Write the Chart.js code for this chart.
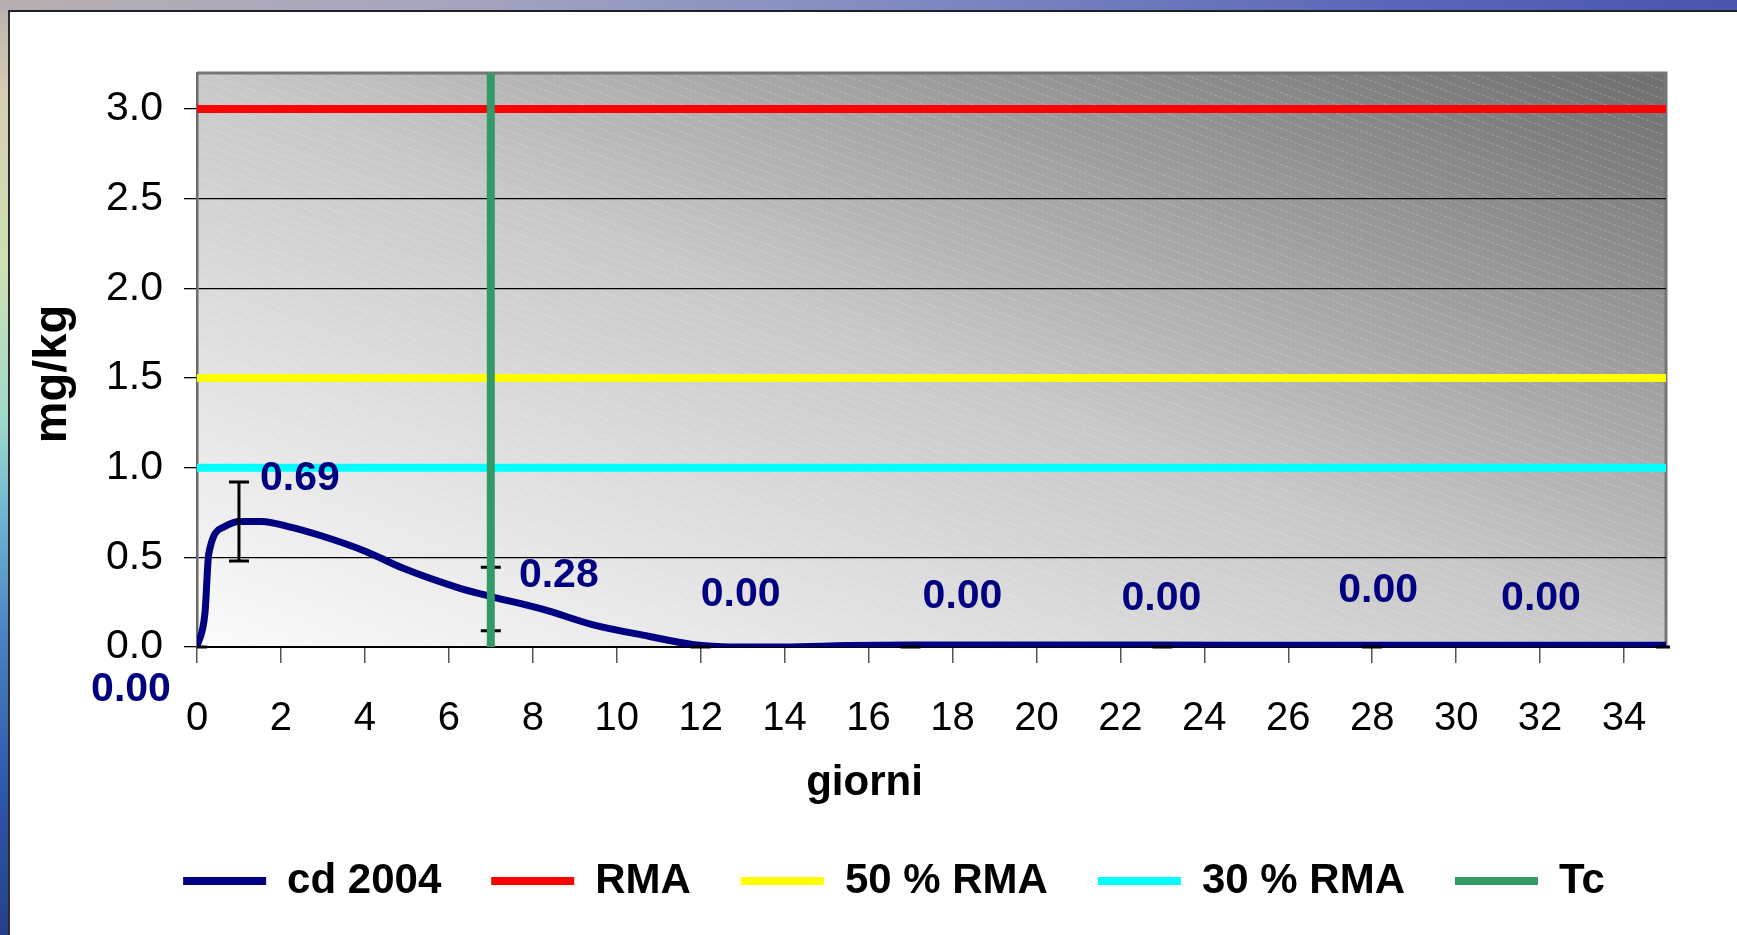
<!DOCTYPE html>
<html>
<head>
<meta charset="utf-8">
<title>cd 2004</title>
<script src="https://cdn.jsdelivr.net/npm/chart.js@4.4.1/dist/chart.umd.min.js"></script>
<style>
  html, body { margin: 0; padding: 0; }
  body {
    width: 1737px; height: 935px; overflow: hidden; position: relative;
    background: linear-gradient(to bottom, #b9b2ae 0%, #d6cdb4 10%, #cfe1b3 28%, #9fd9cc 45%, #6fb6d2 55%, #4a82c4 68%, #2f56a8 85%, #24408c 100%);
  }
  #topband {
    position: absolute; left: 0; top: 0; right: 0; height: 12px;
    background: linear-gradient(to right, #b7aeb0 0%, #a7a6bf 25%, #7c86c2 55%, #5a66b8 80%, #4a56ae 100%);
  }
  #panel {
    position: absolute; left: 8px; top: 10px; right: 0; bottom: 0; background: #fff;
    border-left: 2px solid #2c2c2c; border-top: 2px solid #1f1f2a;
  }
  #wrap { position: absolute; left: 0; top: 0; width: 1737px; height: 935px; }
</style>
</head>
<body>
<div id="topband"></div>
<div id="panel"></div>
<div id="wrap"><canvas id="chart"></canvas></div>
<script>
'use strict';

// cd 2004 curve (giorni, mg/kg)
const curveDays = [0, 0.19, 0.28, 0.65, 1.03, 1.54, 2.2, 2.96, 4.05, 4.9, 6.23, 7.03, 8.25, 9.42, 10.76, 11.85, 13, 14, 15.5, 17, 20, 25, 30, 35];
const curveValues = [0, 0.19, 0.52, 0.67, 0.70, 0.70, 0.67, 0.62, 0.53, 0.44, 0.33, 0.28, 0.21, 0.125, 0.06, 0.013, 0, 0, 0.008, 0.011, 0.011, 0.01, 0.01, 0.01];

// sampling days, with value labels and error bars
const sampleDays = [0, 1, 7, 12, 17, 23, 28, 35];
const sampleValues = [0, 0.69, 0.28, 0, 0, 0, 0, 0];
const sampleLow = [0, 0.48, 0.09, 0, 0, 0, 0, 0];
const sampleHigh = [0, 0.92, 0.445, 0, 0, 0, 0, 0];

const seriesName = 'cd 2004';
const limitNames = ['RMA', '50 % RMA', '30 % RMA'];
const limitValues = [3.0, 1.5, 1.0];
const tcName = 'Tc';
const tcDay = 7;

const dayRange = [0, 35];
const valueRange = [0, 3.2];
const xTitle = 'giorni';
const yTitle = 'mg/kg';

// styling
const limitColors = ['#ff0000', '#ffff00', '#00ffff'];
const labelShift = [[-66, 43], [61, -45], [68, -21], [40, -52], [52, -50], [-1, -48], [6, -56], [-125, -48]];
const FONT = '"Liberation Sans", Arial, sans-serif';

Chart.defaults.font.family = FONT;
Chart.defaults.color = '#000';

let canvasElem = document.getElementById('chart');

const plotBackground = {
  id: 'plotBackground',
  beforeDraw(chart) {
    const {ctx, chartArea: a} = chart;
    const w = a.right - a.left;
    const h = a.bottom - a.top;
    ctx.save();
    ctx.translate(a.left, a.top);
    ctx.scale(w, h);
    const g = ctx.createLinearGradient(0, 1, 1, 0);
    g.addColorStop(0, '#fbfbfb');
    g.addColorStop(0.5, '#c8c8c8');
    g.addColorStop(1, '#6e6e6e');
    ctx.fillStyle = g;
    ctx.fillRect(0, 0, 1, 1);
    ctx.restore();

    // faint dashed hatching
    ctx.save();
    ctx.beginPath();
    ctx.rect(a.left, a.top, w, h);
    ctx.clip();
    ctx.strokeStyle = 'rgba(255,255,255,0.25)';
    ctx.lineWidth = 1;
    ctx.setLineDash([3, 2]);
    const slope = 0.37;
    for (let off = -w * slope; off < h; off += 9) {
      ctx.beginPath();
      ctx.moveTo(a.left, a.top + off);
      ctx.lineTo(a.right, a.top + off + w * slope);
      ctx.stroke();
    }
    ctx.restore();

    ctx.save();
    ctx.strokeStyle = '#767676';
    ctx.lineWidth = 3;
    ctx.beginPath();
    ctx.moveTo(a.left, a.top);
    ctx.lineTo(a.right, a.top);
    ctx.lineTo(a.right, a.bottom);
    ctx.stroke();
    ctx.restore();
  }
};

const sampleMarks = {
  id: 'sampleMarks',
  afterDatasetDraw(chart, args) {
    if (args.index !== 0) return;
    const {ctx, chartArea: a, scales: {x, y}} = chart;
    ctx.save();
    ctx.beginPath();
    ctx.rect(a.left, a.top - 10, a.right - a.left + 4, a.bottom - a.top + 20);
    ctx.clip();
    ctx.strokeStyle = '#000';
    ctx.lineWidth = 3;
    sampleDays.forEach((d, i) => {
      const px = x.getPixelForValue(d);
      const lo = y.getPixelForValue(sampleLow[i]);
      const hi = y.getPixelForValue(sampleHigh[i]);
      ctx.beginPath();
      ctx.moveTo(px, lo);
      ctx.lineTo(px, hi);
      ctx.moveTo(px - 10, lo);
      ctx.lineTo(px + 10, lo);
      ctx.moveTo(px - 10, hi);
      ctx.lineTo(px + 10, hi);
      ctx.stroke();
    });
    ctx.restore();
  },
  afterDatasetsDraw(chart) {
    const {ctx, scales: {x, y}} = chart;
    ctx.save();
    ctx.font = 'bold 41px ' + FONT;
    ctx.fillStyle = '#000080';
    ctx.textAlign = 'center';
    ctx.textBaseline = 'middle';
    sampleDays.forEach((d, i) => {
      ctx.fillText(sampleValues[i].toFixed(2),
        x.getPixelForValue(d) + labelShift[i][0],
        y.getPixelForValue(sampleValues[i]) + labelShift[i][1]);
    });
    ctx.restore();
  }
};

// axis titles sit off-centre in the original slide
const axisTitles = {
  id: 'axisTitles',
  afterDraw(chart) {
    const {ctx, chartArea: a} = chart;
    ctx.save();
    ctx.fillStyle = '#000';
    ctx.textAlign = 'center';
    ctx.textBaseline = 'middle';
    ctx.font = 'bold 42px ' + FONT;
    ctx.fillText(xTitle, (a.left + a.right) / 2 - 67, a.bottom + 136);
    ctx.font = 'bold 47px ' + FONT;
    ctx.translate(53, (a.top + a.bottom) / 2 + 14);
    ctx.rotate(-Math.PI / 2);
    ctx.fillText(yTitle, 0, 0);
    ctx.restore();
  }
};

// move the legend row to where it sits in the original slide
const legendShift = {
  id: 'legendShift',
  afterLayout(chart) {
    if (!chart.legend) return;
    chart.legend.left += 51;
    chart.legend.right += 51;
  }
};

function renderChart() {
  let datasets = [];
  datasets.push({
    label: seriesName,
    data: curveDays.map((d, i) => ({x: d, y: curveValues[i]})),
    borderColor: '#000080',
    backgroundColor: '#000080',
    borderWidth: 7,
    pointRadius: 0,
    cubicInterpolationMode: 'monotone',
    order: 5
  });
  for (let i = 0; i < limitNames.length; i++) {
    datasets.push({
      label: limitNames[i],
      data: [{x: dayRange[0], y: limitValues[i]}, {x: dayRange[1], y: limitValues[i]}],
      borderColor: limitColors[i],
      backgroundColor: limitColors[i],
      borderWidth: 8,
      pointRadius: 0,
      order: 4 - i
    });
  }
  datasets.push({
    label: tcName,
    data: [{x: tcDay, y: valueRange[0]}, {x: tcDay, y: valueRange[1]}],
    borderColor: '#339966',
    backgroundColor: '#339966',
    borderWidth: 8,
    pointRadius: 0,
    order: 1
  });
  datasets.push({
    label: 'samples',
    data: sampleDays.map((d, i) => ({x: d, y: sampleValues[i]})),
    showLine: false,
    pointRadius: 0,
    order: 0
  });

  let config = {
    type: 'line',
    data: {datasets: datasets},
    plugins: [plotBackground, sampleMarks, axisTitles, legendShift],
    options: {
      responsive: true,
      maintainAspectRatio: false,
      animation: false,
      events: [],
      layout: {padding: {left: 20, right: 71, top: 73, bottom: 23}},
      scales: {
        x: {
          type: 'linear',
          min: dayRange[0],
          max: dayRange[1],
          ticks: {stepSize: 2, includeBounds: false, autoSkip: false, maxRotation: 0,
            font: {size: 40}, color: '#000', padding: 32},
          grid: {drawOnChartArea: false, drawTicks: true, tickLength: 16, tickColor: '#555', lineWidth: 1.5},
          border: {color: '#000', width: 2},
          afterFit(scale) { scale.height = 163; }
        },
        y: {
          min: valueRange[0],
          max: valueRange[1],
          ticks: {stepSize: 0.5, includeBounds: false, font: {size: 41}, color: '#000', padding: 21,
            callback: v => v.toFixed(1)},
          grid: {color: '#000', lineWidth: 1.3, tickLength: 13, tickColor: '#000'},
          border: {color: '#6b6b6b', width: 2.5},
          afterFit(scale) { scale.width = 177; }
        }
      },
      plugins: {
        tooltip: {enabled: false},
        legend: {
          position: 'bottom',
          labels: {
            boxWidth: 83,
            boxHeight: 8,
            padding: 50,
            color: '#000',
            font: {size: 42, weight: 'bold'},
            filter: item => item.text !== 'samples',
            sort: (a, b) => a.datasetIndex - b.datasetIndex,
            generateLabels(chart) {
              return Chart.defaults.plugins.legend.labels.generateLabels(chart).map(item => {
                item.fillStyle = item.strokeStyle;
                item.lineWidth = 0;
                return item;
              });
            }
          }
        }
      }
    }
  };
  new Chart(canvasElem, config);
}

renderChart();
</script>
</body>
</html>
